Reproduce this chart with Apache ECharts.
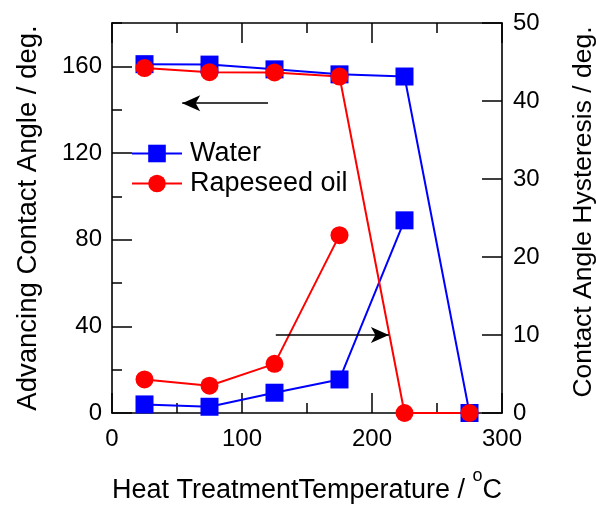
<!DOCTYPE html>
<html>
<head>
<meta charset="utf-8">
<script src="https://cdn.jsdelivr.net/npm/echarts@6/dist/echarts.min.js"></script>
<style>
html,body{margin:0;padding:0;background:#fff;}
#chart{width:596px;height:505px;}
</style>
</head>
<body>
<div id="chart"></div>
<script>
// heat treatment temperature (deg C)
var temps = [25, 75, 125, 175, 225, 275];
// advancing contact angle / deg.
var waterAdv = [161, 160.8, 158.6, 156.3, 155.3, 0];
var oilAdv = [159.2, 157.3, 157.2, 155.3, 0, 0];
// contact angle hysteresis / deg.
var waterHys = [1.1, 0.8, 2.6, 4.3, 24.7];
var oilHys = [4.3, 3.5, 6.3, 22.8];

function pairs(xs, ys) {
	var out = [];
	for (var i = 0; i < ys.length; i++) {
		out.push([xs[i], ys[i]]);
	}
	return out;
}

var dom = document.getElementById('chart');
var myChart = echarts.init(dom);
var font = 'Liberation Sans, Arial, sans-serif';
var axLine = { onZero: false, lineStyle: { color: '#000', width: 1.6 } };
var tickStyle = { color: '#000', width: 1.5 };
var box = { left: 112, top: 23, right: 94, bottom: 92, outerBoundsMode: 'none' };

var option = {
	animation: false,
	textStyle: { fontFamily: font },
	// second grid only carries the minor ticks of the left axis
	grid: [box, box],
	legend: {
		left: 126, top: 135, orient: 'vertical',
		itemWidth: 50, itemHeight: 22, itemGap: 3,
		textStyle: { fontSize: 27, color: '#000', fontFamily: font, padding: [0, 0, 0, 3] },
		data: ['Water', 'Rapeseed oil']
	},
	xAxis: [{
		type: 'value', min: 0, max: 300, interval: 100,
		axisLine: axLine,
		axisTick: { inside: true, length: 20, lineStyle: tickStyle },
		minorTick: { show: true, splitNumber: 2, length: 10, lineStyle: tickStyle },
		axisLabel: { fontSize: 24, color: '#000', margin: 14, fontFamily: font },
		splitLine: { show: false },
		name: 'Heat TreatmentTemperature / {sup|o}C',
		nameLocation: 'middle', nameGap: 54,
		nameTextStyle: { fontSize: 27, color: '#000', fontFamily: font,
			rich: { sup: { fontSize: 18, verticalAlign: 'top', padding: [0, 0, 30, 0] } } }
	}, {
		type: 'value', min: 0, max: 300, interval: 100, position: 'top',
		axisLine: axLine,
		axisTick: { inside: true, length: 20, lineStyle: tickStyle },
		minorTick: { show: true, splitNumber: 2, length: 10, lineStyle: tickStyle },
		axisLabel: { show: false },
		splitLine: { show: false }
	}, {
		gridIndex: 1, type: 'value', min: 0, max: 300, show: false
	}],
	yAxis: [{
		type: 'value', min: 0, max: 180, interval: 40, position: 'left',
		axisLine: axLine,
		axisTick: { inside: true, length: 20, lineStyle: tickStyle },
		axisLabel: { fontSize: 24, color: '#000', margin: 10, fontFamily: font, showMaxLabel: false },
		splitLine: { show: false },
		name: 'Advancing Contact Angle / deg.',
		nameLocation: 'middle', nameGap: 70, nameRotate: 90,
		nameTextStyle: { fontSize: 27.5, color: '#000', fontFamily: font }
	}, {
		type: 'value', min: 0, max: 50, interval: 10, position: 'right',
		axisLine: axLine,
		axisTick: { inside: true, length: 20, lineStyle: tickStyle },
		axisLabel: { fontSize: 24, color: '#000', margin: 11, fontFamily: font },
		splitLine: { show: false },
		name: 'Contact Angle Hysteresis / deg.',
		nameLocation: 'middle', nameGap: 68, nameRotate: 90,
		nameTextStyle: { fontSize: 26.5, color: '#000', fontFamily: font, padding: [0, 0, 0, 12] }
	}, {
		gridIndex: 1, type: 'value', min: 0, max: 180, interval: 20, position: 'left',
		axisLine: { show: false, onZero: false },
		axisTick: { inside: true, length: 10, lineStyle: tickStyle },
		axisLabel: { show: false },
		splitLine: { show: false }
	}],
	series: [{
		name: 'Water', type: 'line', yAxisIndex: 0,
		data: pairs(temps, waterAdv),
		symbol: 'rect', symbolSize: 18,
		itemStyle: { color: '#0000ff' }, lineStyle: { color: '#0000ff', width: 2 },
		markLine: {
			silent: true, symbol: ['none', 'arrow'], symbolSize: [12, 18],
			label: { show: false },
			lineStyle: { color: '#000', width: 1.5, type: 'solid' },
			data: [[{ coord: [120, 143] }, { coord: [54, 143] }]]
		}
	}, {
		name: 'Water', type: 'line', yAxisIndex: 1,
		data: pairs(temps, waterHys),
		symbol: 'rect', symbolSize: 18,
		itemStyle: { color: '#0000ff' }, lineStyle: { color: '#0000ff', width: 2 },
		markLine: {
			silent: true, symbol: ['none', 'arrow'], symbolSize: [12, 18],
			label: { show: false },
			lineStyle: { color: '#000', width: 1.5, type: 'solid' },
			data: [[{ coord: [126, 10] }, { coord: [213, 10] }]]
		}
	}, {
		name: 'Rapeseed oil', type: 'line', yAxisIndex: 0,
		data: pairs(temps, oilAdv),
		symbol: 'circle', symbolSize: 18,
		itemStyle: { color: '#ff0000' }, lineStyle: { color: '#ff0000', width: 2 }
	}, {
		name: 'Rapeseed oil', type: 'line', yAxisIndex: 1,
		data: pairs(temps, oilHys),
		symbol: 'circle', symbolSize: 18,
		itemStyle: { color: '#ff0000' }, lineStyle: { color: '#ff0000', width: 2 }
	}]
};
if (option && typeof option === "object") {
	myChart.setOption(option, true);
}
</script>
</body>
</html>
